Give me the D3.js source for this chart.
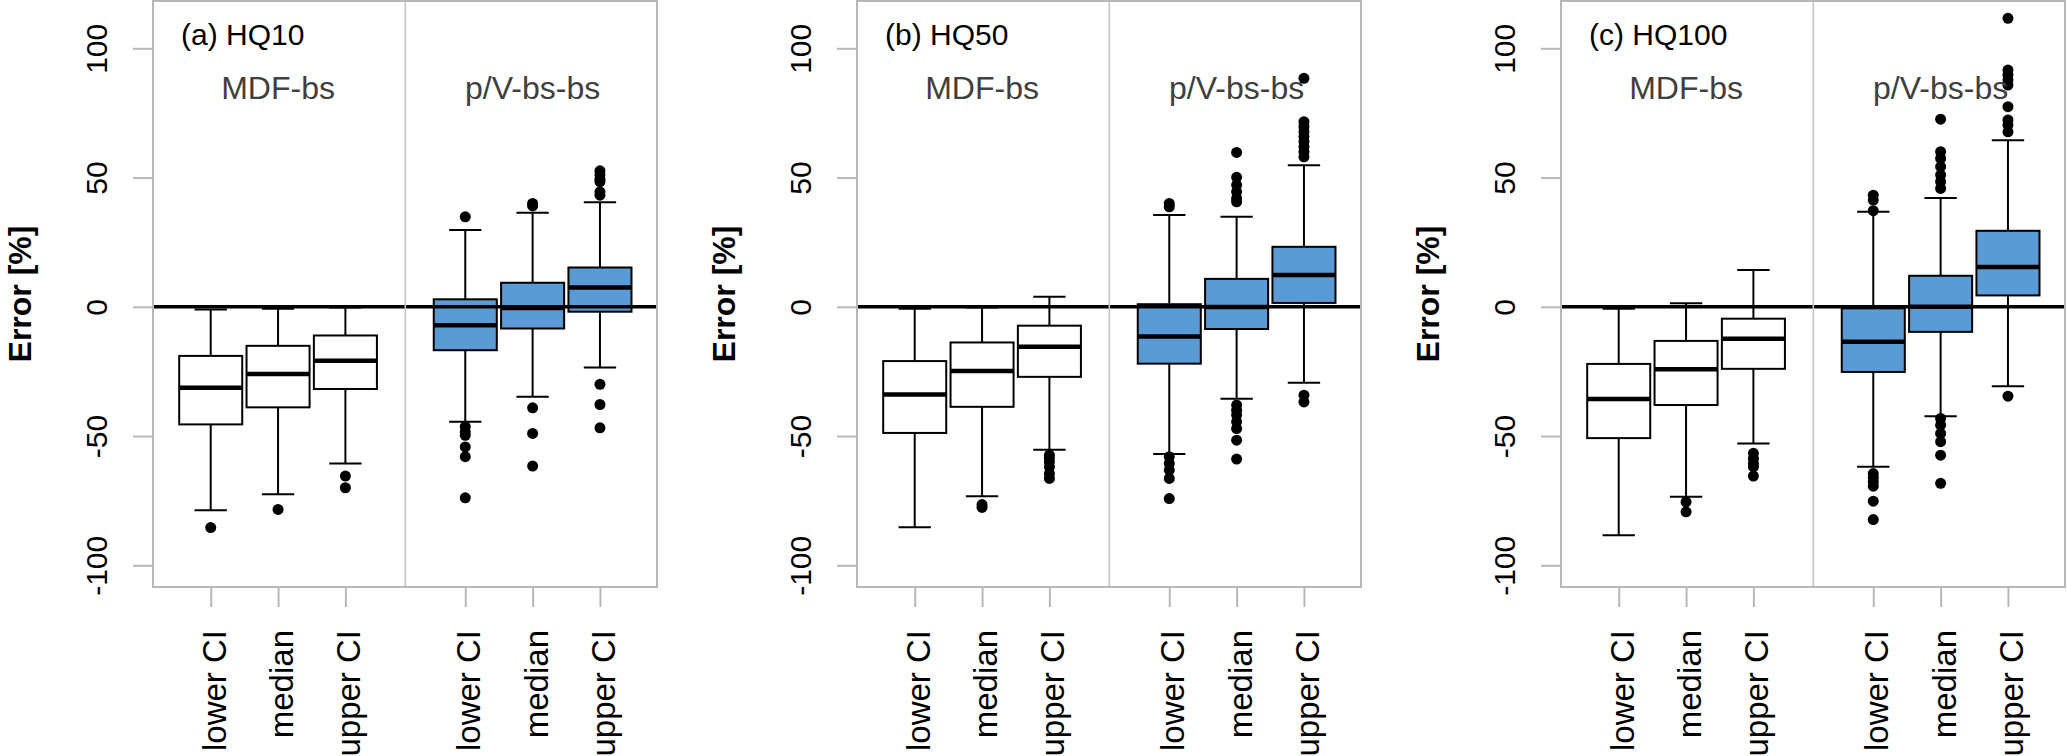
<!DOCTYPE html>
<html>
<head>
<meta charset="utf-8">
<script src="https://cdn.jsdelivr.net/npm/d3@7"></script>
<style>
  html, body { margin: 0; padding: 0; background: #fff; }
  svg { display: block; }
  text { font-family: "Liberation Sans", Arial, Helvetica, sans-serif; }
</style>
</head>
<body>
<svg id="chart" width="2067" height="756"></svg>
<script>
// ---------------- data ----------------
const panelTitles = ["(a) HQ10", "(b) HQ50", "(c) HQ100"];
const categories = ["lower CI", "median", "upper CI", "lower CI", "median", "upper CI"];
const groupLabels = ["MDF-bs", "p/V-bs-bs"];
const groupOfBox = [0, 0, 0, 1, 1, 1];
const yTicks = [-100, -50, 0, 50, 100];
const yTickLabels = ["-100", "-50", "0", "50", "100"];

// one row per panel (HQ10, HQ50, HQ100), one value per box
const whiskerLow = [
  [-78.7, -72.5, -60.6, -44.5, -34.8, -23.5],
  [-85.3, -73.3, -55.3, -56.9, -35.6, -29.4],
  [-88.4, -73.5, -52.9, -61.9, -42.3, -30.7]
];
const q1 = [
  [-45.5, -38.9, -31.8, -16.8, -8.4, -1.9],
  [-48.8, -38.7, -27.1, -22.0, -8.6, 1.5],
  [-50.8, -38.0, -24.0, -25.2, -9.7, 4.4]
];
const median = [
  [-31.3, -26.0, -20.9, -7.1, -0.5, 7.5],
  [-33.9, -24.8, -15.5, -11.5, -0.1, 12.3],
  [-35.7, -24.2, -12.4, -13.5, 0.0, 15.4]
];
const q3 = [
  [-19.0, -15.1, -11.1, 2.9, 9.3, 15.2],
  [-21.0, -13.8, -7.3, 1.0, 10.8, 23.2],
  [-22.1, -13.2, -4.6, -0.6, 12.0, 29.4]
];
const whiskerHigh = [
  [-1.0, -0.8, -0.3, 29.7, 36.4, 40.4],
  [-0.8, -0.3, 3.9, 35.5, 34.8, 54.8],
  [-0.8, 1.4, 14.2, 36.8, 42.1, 64.4]
];
const outliers = [
  [[-85.4], [-78.4], [-65.5, -70.0],
   [34.8, -46.4, -48.4, -49.7, -54.2, -58.0, -73.9],
   [40.0, 39.0, -39.1, -49.0, -61.6],
   [52.6, 51.0, 49.3, 48.4, 44.5, 43.2, -30.0, -37.8, -46.8]],
  [[], [-76.5, -77.6], [-57.4, -58.5, -60.0, -61.9, -64.5, -66.4],
   [40.0, 38.7, -58.0, -60.6, -63.2, -66.4, -74.2],
   [59.7, 50.1, 47.1, 44.5, 41.9, 40.6, -38.0, -40.0, -41.9, -44.5, -47.1, -51.6, -58.9],
   [88.4, 71.6, 69.7, 67.7, 65.8, 63.9, 61.9, 60.0, 58.0, -34.2, -36.8]],
  [[], [-75.5, -79.3], [-56.7, -58.7, -60.6, -61.9, -65.5],
   [43.2, 41.3, 37.2, -64.5, -66.0, -67.7, -69.4, -75.2, -82.3],
   [72.6, 60.0, 57.4, 54.2, 51.0, 48.4, 45.8, -43.2, -45.8, -49.0, -52.2, -57.4, -68.3],
   [111.6, 91.6, 89.7, 87.7, 85.8, 77.4, 72.3, 70.3, 67.7, -34.6]]
];

// ---------------- layout ----------------
const slotPos = [1, 2, 3, 4.78, 5.78, 6.78];
const xDomain = [0.143, 7.627];
const yDomain = [-108.4, 118.3];
const panelLeft0 = 153, panelWidth = 504, panelStep = 704;
const plotTop = 1, plotBottom = 587;
const boxHalf = 0.468, capHalf = 0.24;
const fills = ["#ffffff", "#5b9bd5"];
const frameColor = "#b8b8b8";

const svg = d3.select("#chart");

panelTitles.forEach((title, p) => {
  const left = panelLeft0 + p * panelStep;
  const right = left + panelWidth;
  const x = d3.scaleLinear().domain(xDomain).range([left, right]);
  const y = d3.scaleLinear().domain(yDomain).range([plotBottom, plotTop]);
  const g = svg.append("g");

  // y axis (ticks, labels rotated like R)
  const yAxis = d3.axisLeft(y).tickValues(yTicks).tickSize(20)
    .tickFormat((d, i) => yTickLabels[i]);
  const ya = g.append("g").attr("transform", `translate(${left},0)`).call(yAxis);
  ya.select(".domain").remove();
  ya.selectAll(".tick line").attr("stroke", frameColor).attr("stroke-width", 2);
  ya.selectAll(".tick text")
    .attr("x", null).attr("dy", null)
    .attr("transform", `translate(-46,0) rotate(-90)`)
    .attr("text-anchor", "middle")
    .attr("font-size", 30)
    .attr("fill", "#000")
    .style("font-family", '"Liberation Sans", Arial, sans-serif');

  // x axis ticks
  const xa = g.append("g").attr("transform", `translate(0,${plotBottom})`)
    .call(d3.axisBottom(x).tickValues(slotPos).tickSize(20).tickFormat(""));
  xa.select(".domain").remove();
  xa.selectAll(".tick line").attr("stroke", frameColor).attr("stroke-width", 2);

  // x tick labels (perpendicular)
  g.selectAll("text.xlab").data(categories).enter().append("text")
    .attr("class", "xlab")
    .attr("transform", (d, i) => `translate(${x(slotPos[i]) + 15},${plotBottom + 43}) rotate(-90)`)
    .attr("text-anchor", "end")
    .attr("font-size", 33)
    .attr("fill", "#000")
    .text(d => d);

  // y axis title
  g.append("text")
    .attr("transform", `translate(${left - 122},${(plotTop + plotBottom) / 2}) rotate(-90)`)
    .attr("text-anchor", "middle")
    .attr("font-size", 32)
    .attr("font-weight", "bold")
    .text("Error [%]");

  // boxes
  const boxes = categories.map((c, i) => ({
    i, pos: slotPos[i], lo: whiskerLow[p][i], q1: q1[p][i], med: median[p][i],
    q3: q3[p][i], hi: whiskerHigh[p][i], out: outliers[p][i], grp: groupOfBox[i]
  }));

  const bg = g.append("g");
  boxes.forEach(b => {
    const bx = bg.append("g");
    bx.append("line").attr("x1", x(b.pos)).attr("x2", x(b.pos))
      .attr("y1", y(b.q3)).attr("y2", y(b.hi)).attr("stroke", "#000").attr("stroke-width", 2);
    bx.append("line").attr("x1", x(b.pos)).attr("x2", x(b.pos))
      .attr("y1", y(b.q1)).attr("y2", y(b.lo)).attr("stroke", "#000").attr("stroke-width", 2);
    [b.hi, b.lo].forEach(v => {
      bx.append("line").attr("x1", x(b.pos - capHalf)).attr("x2", x(b.pos + capHalf))
        .attr("y1", y(v)).attr("y2", y(v)).attr("stroke", "#000").attr("stroke-width", 2);
    });
    bx.append("rect")
      .attr("x", x(b.pos - boxHalf)).attr("width", x(b.pos + boxHalf) - x(b.pos - boxHalf))
      .attr("y", y(b.q3)).attr("height", y(b.q1) - y(b.q3))
      .attr("fill", fills[b.grp]).attr("stroke", "#000").attr("stroke-width", 2);
    bx.append("line").attr("x1", x(b.pos - boxHalf)).attr("x2", x(b.pos + boxHalf))
      .attr("y1", y(b.med)).attr("y2", y(b.med)).attr("stroke", "#000").attr("stroke-width", 4.5);
    bx.selectAll("circle").data(b.out).enter().append("circle")
      .attr("cx", x(b.pos)).attr("cy", d => y(d)).attr("r", 5.5).attr("fill", "#000");
  });

  // zero reference line
  g.append("line").attr("x1", left).attr("x2", right)
    .attr("y1", y(0)).attr("y2", y(0)).attr("stroke", "#000").attr("stroke-width", 3.5);

  // divider between method groups
  const divX = x((slotPos[2] + slotPos[3]) / 2);
  g.append("line").attr("x1", divX).attr("x2", divX)
    .attr("y1", plotTop).attr("y2", plotBottom).attr("stroke", "#c4c4c4").attr("stroke-width", 1.6);

  // frame
  g.append("rect").attr("x", left).attr("y", plotTop)
    .attr("width", right - left).attr("height", plotBottom - plotTop)
    .attr("fill", "none").attr("stroke", frameColor).attr("stroke-width", 2);

  // panel title
  g.append("text").attr("x", left + 28).attr("y", 45)
    .attr("font-size", 30).attr("fill", "#000").text(title);

  // group labels
  groupLabels.forEach((lab, k) => {
    g.append("text").attr("x", x(slotPos[1 + 3 * k])).attr("y", 99)
      .attr("text-anchor", "middle").attr("font-size", 32).attr("fill", "#404040").text(lab);
  });
});
</script>
</body>
</html>
